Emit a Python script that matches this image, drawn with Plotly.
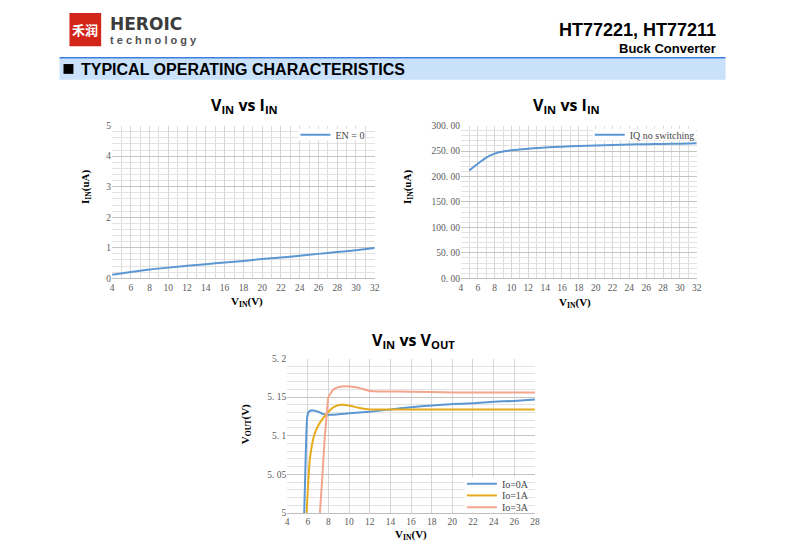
import plotly.graph_objects as go

# page coordinates below are those of the reference picture; the browser puts
# the figure 8px in from the top-left corner (body margin)
OFF = 8
W, H = 785 - OFF, 550 - OFF

# ---- data ----
# Chart 1: VIN vs IIN, EN = 0
en0_vin = [4, 6, 8, 10, 12, 14, 16, 18, 20, 22, 24, 26, 28, 30, 32]
en0_iin = [0.12, 0.21, 0.29, 0.35, 0.41, 0.46, 0.52, 0.57, 0.63, 0.68, 0.74, 0.80, 0.86, 0.92, 0.99]

# Chart 2: VIN vs IIN, IQ no switching
iq_vin = [5, 6, 7, 8, 9, 10, 12, 14, 16, 18, 20, 22, 24, 26, 28, 30, 32]
iq_iin = [212, 225, 237, 245, 249, 251.5, 254.5, 257, 258.5, 260, 261, 262, 263, 263.5, 264, 264.5, 265.5]

# Chart 3: VIN vs VOUT
io0_vin = [5.65, 5.75, 5.85, 5.95, 6.1, 6.4, 7.0, 7.5, 8, 10, 12, 14, 16, 18, 20, 22, 24, 26, 28]
io0_vout = [5.0, 5.05, 5.1, 5.125, 5.131, 5.133, 5.131, 5.128, 5.127, 5.129, 5.131, 5.134, 5.137,
            5.139, 5.141, 5.142, 5.144, 5.145, 5.147]
io1_vin = [5.88, 6.0, 6.2, 6.6, 7.0, 7.5, 8.0, 8.5, 9.2, 10, 11, 12, 14, 16, 20, 24, 28]
io1_vout = [5.0, 5.03, 5.07, 5.1, 5.113, 5.123, 5.131, 5.137, 5.140, 5.139, 5.136, 5.134,
            5.134, 5.134, 5.134, 5.134, 5.134]
io3_vin = [7.17, 7.42, 7.65, 7.85, 8.0, 8.5, 9.0, 9.7, 10.5, 11.2, 12, 16, 20, 24, 28]
io3_vout = [5.0, 5.05, 5.1, 5.13, 5.15, 5.16, 5.163, 5.164, 5.163, 5.161, 5.158, 5.157,
            5.156, 5.156, 5.156]

iq_ticks = [0, 50, 100, 150, 200, 250, 300]
iq_ticktext = ["0. 00", "50. 00", "100. 00", "150. 00", "200. 00", "250. 00", "300. 00"]
vout_ticks = [5.0, 5.05, 5.1, 5.15, 5.2]
vout_ticktext = ["5", "5. 05", "5. 1", "5. 15", "5. 2"]

BLUE = "#5b97d2"
GOLD = "#e6ab1c"
SALMON = "#f3a58e"
TICK_FONT = dict(family="Liberation Serif", size=9.5, color="#595959")
LEG_FONT = dict(family="Liberation Serif", size=10, color="#454545")
GRID_MAJ = "#c4c4c4"
GRID_MIN = "#e3e3e3"


def px(x):
    return (x - OFF) / W


def py(y):
    return 1 - (y - OFF) / H


fig = go.Figure()

fig.add_trace(go.Scatter(x=en0_vin, y=en0_iin, mode="lines", name="EN = 0",
                         line=dict(color=BLUE, width=2, shape="spline", smoothing=0.6),
                         xaxis="x", yaxis="y", legend="legend"))
fig.add_trace(go.Scatter(x=iq_vin, y=iq_iin, mode="lines", name="IQ no switching",
                         line=dict(color=BLUE, width=2, shape="spline", smoothing=0.6),
                         xaxis="x2", yaxis="y2", legend="legend2"))
for xs, ys, name, col, leg in [(io0_vin, io0_vout, "Io=0A", BLUE, "legend3"),
                               (io1_vin, io1_vout, "Io=1A", GOLD, "legend4"),
                               (io3_vin, io3_vout, "Io=3A", SALMON, "legend5")]:
    fig.add_trace(go.Scatter(x=xs, y=ys, mode="lines", name=name,
                             line=dict(color=col, width=2, shape="spline", smoothing=0.5),
                             xaxis="x3", yaxis="y3", legend=leg))


def xaxis_cfg(dom, rng, minor_dtick, anchor):
    cfg = dict(domain=dom, range=rng, anchor=anchor, dtick=2, tick0=4, showgrid=True,
               gridcolor="#d6d6d6", gridwidth=1, zeroline=False, showline=True,
               linecolor="#bfbfbf", tickfont=TICK_FONT, ticks="", fixedrange=True)
    if minor_dtick:
        cfg["minor"] = dict(dtick=minor_dtick, tick0=4, showgrid=True, gridcolor="#dcdcdc")
    return cfg


def yaxis_cfg(dom, rng, anchor, minor_dtick, **kw):
    cfg = dict(domain=dom, range=rng, anchor=anchor, showgrid=True, gridcolor=GRID_MAJ,
               zeroline=False, showline=False, tickfont=TICK_FONT, ticks="",
               minor=dict(dtick=minor_dtick, tick0=rng[0], showgrid=True, gridcolor=GRID_MIN),
               fixedrange=True)
    cfg.update(kw)
    return cfg


def legend_at(x, y):
    return dict(x=px(x), y=py(y), xanchor="left", yanchor="middle",
                bgcolor="rgba(0,0,0,0)", font=LEG_FONT, itemwidth=30)


fig.update_layout(
    width=W, height=H, autosize=False,
    margin=dict(l=0, r=0, t=0, b=0),
    paper_bgcolor="white", plot_bgcolor="white",
    xaxis=xaxis_cfg([px(111), px(376)], [4, 32], 1, "y"),
    yaxis=yaxis_cfg([py(278.3), py(122.7)], [0, 5], "x", 0.2, dtick=1),
    xaxis2=xaxis_cfg([px(463), px(701)], [4, 32], 1, "y2"),
    yaxis2=yaxis_cfg([py(278.3), py(122.7)], [0, 300], "x2", 10,
                     tickmode="array", tickvals=iq_ticks, ticktext=iq_ticktext),
    xaxis3=xaxis_cfg([px(287.7), px(537.7)], [4, 28], None, "y3"),
    yaxis3=yaxis_cfg([py(517.3), py(360)], [5, 5.2], "x3", 0.01,
                     tickmode="array", tickvals=vout_ticks, ticktext=vout_ticktext),
    legend=legend_at(296, 132),
    legend2=legend_at(593, 132),
    legend3=legend_at(464, 487.5),
    legend4=legend_at(464, 499.5),
    legend5=legend_at(464, 511.5),
    showlegend=True,
)

# ---- header shapes and legend backings ----
shapes = [
    dict(type="rect", x0=px(68), x1=px(100), y0=py(42), y1=py(8), fillcolor="#d3261b",
         line=dict(width=0)),
    dict(type="rect", x0=px(58), x1=px(730), y0=py(76), y1=py(54), fillcolor="#c9e1fb",
         line=dict(width=0)),
    dict(type="line", x0=px(58), x1=px(730), y0=py(53.5), y1=py(53.5),
         line=dict(color="#3b7ddb", width=1.5)),
    dict(type="rect", x0=px(62), x1=px(72), y0=py(70), y1=py(60), fillcolor="black",
         line=dict(width=0)),
    dict(type="rect", x0=px(299), x1=px(366), y0=py(138), y1=py(126), fillcolor="white",
         line=dict(width=0), layer="above"),
    dict(type="rect", x0=px(596), x1=px(700.5), y0=py(138), y1=py(126), fillcolor="white",
         line=dict(width=0), layer="above"),
    dict(type="rect", x0=px(467), x1=px(530), y0=py(517), y1=py(481), fillcolor="white",
         line=dict(width=0), layer="above"),
]
for s in shapes:
    s.update(xref="paper", yref="paper")
fig.update_layout(shapes=shapes)

ann = []


def add_text(x, y, text, size, family="Liberation Sans", color="#000000", xanchor="center",
             yanchor="middle", angle=0):
    ann.append(dict(x=px(x), y=py(y), xref="paper", yref="paper", text=text, showarrow=False,
                    xanchor=xanchor, yanchor=yanchor, textangle=angle,
                    font=dict(family=family, size=size, color=color)))


add_text(84, 25, "<b>禾润</b>", 13, family="Noto Sans CJK SC", color="white")
add_text(107, 19, "<b>HEROIC</b>", 17, family="DejaVu Sans", color="#3c3c3c", xanchor="left")
add_text(107, 36, "<b>t e c h n o l o g y</b>", 11, color="#505050", xanchor="left")
add_text(722, 25, "<b>HT77221, HT77211</b>", 18, xanchor="right")
add_text(722, 44, "<b>Buck Converter</b>", 13, xanchor="right")
add_text(78, 66, "<b>TYPICAL OPERATING CHARACTERISTICS</b>", 16, xanchor="left")

for cx, cy, t in [(245, 102, "<b>V<sub>IN</sub> vs I<sub>IN</sub></b>"),
                  (570, 102, "<b>V<sub>IN</sub> vs I<sub>IN</sub></b>"),
                  (415, 342, "<b>V<sub>IN</sub> vs V<sub>OUT</sub></b>")]:
    add_text(cx, cy, t, 16, family="Open Sans")

AX = "Liberation Serif"
add_text(247, 302, "<b>V<sub>IN</sub>(V)</b>", 11, family=AX)
add_text(578, 303, "<b>V<sub>IN</sub>(V)</b>", 11, family=AX)
add_text(413, 540, "<b>V<sub>IN</sub>(V)</b>", 11, family=AX)
add_text(84, 185, "<b>I<sub>IN</sub>(uA)</b>", 11, family=AX, angle=-90)
add_text(409, 185, "<b>I<sub>IN</sub>(uA)</b>", 11, family=AX, angle=-90)
add_text(246, 427, "<b>V<sub>OUT</sub>(V)</b>", 11, family=AX, angle=-90)

fig.update_layout(annotations=ann)

fig.write_html("out.html")
